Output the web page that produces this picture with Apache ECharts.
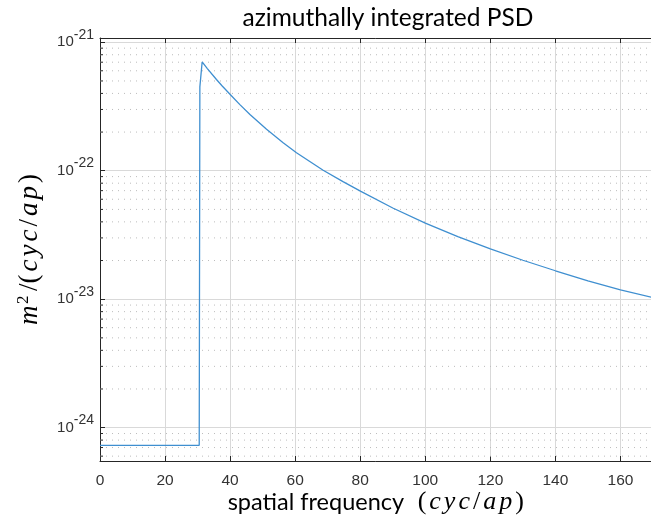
<!DOCTYPE html>
<html><head><meta charset="utf-8">
<script src="https://cdn.jsdelivr.net/npm/echarts@6/dist/echarts.min.js"></script>
<style>html,body{margin:0;padding:0;background:#fff;overflow:hidden}#c{width:651px;height:518px}#err{position:absolute;left:110px;top:200px;font:12px monospace;color:red;width:520px}</style>
</head><body><div id="c"></div><div id="err"></div>
<script>
window.onerror = function (msg, src, line, col, e) { document.getElementById('err').textContent += msg + ' @' + line + ':' + col; };
// spatial frequency (cyc/ap)
const freq = [0, 30.5, 30.7, 31.4, 33, 35.8, 37.5, 40.1, 43, 46.1, 51.2, 56.3, 60.4, 64.5, 68.6, 74.7, 80.2, 90, 100, 110, 120, 130, 140, 150, 160, 170];
// azimuthally integrated PSD (m^2/(cyc/ap))
const psd = [7.28e-25, 7.28e-25, 4.5e-22, 7.03e-22, 6.24e-22, 5.13e-22, 4.59e-22, 3.91e-22, 3.27e-22, 2.74e-22, 2.10e-22, 1.65e-22, 1.38e-22, 1.18e-22, 1.01e-22, 8.22e-23, 6.9e-23, 5.13e-23, 3.91e-23, 3.07e-23, 2.46e-23, 2.01e-23, 1.665e-23, 1.39e-23, 1.18e-23, 1.03e-23];

const xMin = 0, xMax = 170, xStep = 20;
const yMin = 5.5e-25, yMax = 1.08e-21;
const minorMantissas = [2, 3, 4, 5, 6, 7, 8, 9];
const minorExps = [-25, -24, -23, -22];

const minorVals = [];
minorExps.forEach(function (k) {
  minorMantissas.forEach(function (m) {
    const v = m * Math.pow(10, k);
    if (v > yMin && v < yMax) minorVals.push(v);
  });
});

const axisColor = '#262626';
const majorGrid = '#d9d9d9';
const minorGrid = '#bcbcbc';

const chart = echarts.init(document.getElementById('c'), null, {renderer: 'canvas'});

const mathRich = function (size) {
  return {
    i: {fontFamily: 'Liberation Serif', fontStyle: 'italic', fontSize: size, color: '#000', padding: [0, 1.5, 0, 1.5]},
    n: {fontFamily: 'Liberation Serif', fontSize: size, color: '#000', padding: [0, 1.5, 0, 1.5]}
  };
};
const xRich = mathRich(26);
xRich.a = {fontFamily: 'Lato', fontSize: 23.5, color: '#000'};
const yRich = mathRich(27);
yRich.sup = {fontFamily: 'Liberation Serif', fontSize: 17, color: '#000', padding: [0, 3, 13, 0]};

// minor (2..9 x 10^k) grid lines and left-axis minor ticks, placed through the axes' own scales
function renderMinor(params, api) {
  const v = api.value(1);
  const p0 = api.coord([xMin, v]);
  const p1 = api.coord([xMax, v]);
  return {
    type: 'group',
    children: [{
      type: 'line', silent: true,
      shape: {x1: p0[0], y1: p0[1], x2: p1[0], y2: p1[1]},
      style: {stroke: minorGrid, lineWidth: 1, lineDash: [1, 5]}
    }, {
      type: 'line', silent: true,
      shape: {x1: p0[0], y1: p0[1], x2: p0[0] + 3, y2: p0[1]},
      style: {stroke: axisColor, lineWidth: 1}
    }]
  };
}

chart.setOption({
  animation: false,
  backgroundColor: '#fff',
  title: {
    text: 'azimuthally integrated PSD',
    left: 383, top: 1, textAlign: 'center',
    textStyle: {fontFamily: 'Lato', fontWeight: 'normal', fontSize: 24.5, color: '#000'}
  },
  grid: {left: 100, right: -2, top: 38, bottom: 57, containLabel: false, outerBoundsMode: 'none'},
  xAxis: [{
    type: 'value', min: xMin, max: xMax, interval: xStep, position: 'bottom',
    axisLine: {show: true, onZero: false, lineStyle: {color: axisColor, width: 1}},
    axisTick: {show: true, inside: true, length: 5, lineStyle: {color: axisColor}},
    axisLabel: {
      margin: 12, color: '#333', fontFamily: 'Liberation Sans', fontSize: 15.5,
      formatter: function (v) { return v === xMax ? '' : String(v); }
    },
    splitLine: {show: true, lineStyle: {color: majorGrid, width: 1}},
    name: '{a|spatial frequency  }{n|(}{i|c}{i|y}{i|c}{n|/}{i|a}{i|p}{n|)}',
    nameLocation: 'middle', nameGap: 28, nameMoveOverlap: false,
    nameTextStyle: {rich: xRich}
  }, {
    type: 'value', min: xMin, max: xMax, interval: xStep, position: 'top',
    axisLine: {show: true, onZero: false, lineStyle: {color: axisColor, width: 1}},
    axisTick: {show: true, inside: true, length: 5, lineStyle: {color: axisColor}},
    axisLabel: {show: false},
    splitLine: {show: false}
  }],
  yAxis: {
    type: 'log', logBase: 10, min: yMin, max: yMax,
    axisLine: {show: true, onZero: false, lineStyle: {color: axisColor, width: 1}},
    axisTick: {show: true, inside: true, length: 5, lineStyle: {color: axisColor}},
    axisLabel: {
      margin: 6, color: '#333',
      formatter: function (v) {
        if (!(v > 0) || !isFinite(v)) return '';
        const e = Math.log10(v);
        if (Math.abs(e - Math.round(e)) > 1e-6) return '';
        return '{b|10}{s|' + Math.round(e) + '}';
      },
      rich: {
        b: {fontFamily: 'Liberation Sans', fontSize: 15, lineHeight: 15, verticalAlign: 'bottom', color: '#333'},
        s: {fontFamily: 'Liberation Sans', fontSize: 14, lineHeight: 14, padding: [0, 0, 8, 0], verticalAlign: 'bottom', color: '#333'}
      }
    },
    splitLine: {show: true, lineStyle: {color: majorGrid, width: 1}},
    name: '{i|m}{sup|2}{n|/(}{i|c}{i|y}{i|c}{n|/}{i|a}{i|p}{n|)}',
    nameLocation: 'middle', nameRotate: 90, nameGap: 55, nameMoveOverlap: false,
    nameTextStyle: {rich: yRich}
  },
  series: [{
    type: 'custom', xAxisIndex: 0, silent: true, z: 1, clip: false,
    data: minorVals.map(function (v) { return [xMin, v]; }),
    encode: {x: 0, y: 1},
    renderItem: renderMinor
  }, {
    type: 'line', xAxisIndex: 0,
    data: freq.map(function (f, i) { return [f, psd[i]]; }),
    showSymbol: false, symbol: 'none', smooth: false, clip: true,
    lineStyle: {color: '#3f8fd0', width: 1.3},
    z: 3
  }]
});
</script>
</body></html>
